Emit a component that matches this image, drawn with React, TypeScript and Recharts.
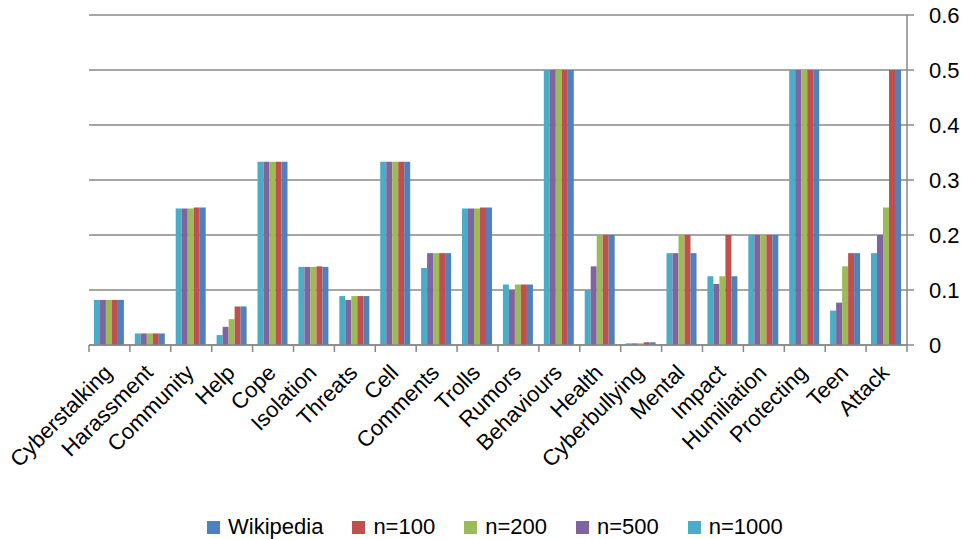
import React from 'react';
import { BarChart, Bar, XAxis, YAxis, CartesianGrid, Legend } from 'recharts';

const categories = [
  'Cyberstalking', 'Harassment', 'Community', 'Help', 'Cope', 'Isolation', 'Threats', 'Cell',
  'Comments', 'Trolls', 'Rumors', 'Behaviours', 'Health', 'Cyberbullying', 'Mental', 'Impact',
  'Humiliation', 'Protecting', 'Teen', 'Attack',
];
const wikipedia = [0.082, 0.021, 0.25, 0.07, 0.333, 0.142, 0.089, 0.333, 0.167, 0.25, 0.11, 0.5, 0.2, 0.005, 0.167, 0.125, 0.2, 0.5, 0.167, 0.5];
const n100 = [0.082, 0.021, 0.25, 0.07, 0.333, 0.143, 0.089, 0.333, 0.167, 0.25, 0.11, 0.5, 0.2, 0.005, 0.2, 0.2, 0.2, 0.5, 0.167, 0.5];
const n200 = [0.082, 0.021, 0.248, 0.047, 0.333, 0.142, 0.089, 0.333, 0.167, 0.248, 0.11, 0.5, 0.2, 0.003, 0.2, 0.125, 0.2, 0.5, 0.143, 0.25];
const n500 = [0.082, 0.021, 0.248, 0.033, 0.333, 0.142, 0.082, 0.333, 0.167, 0.248, 0.1, 0.5, 0.143, 0.003, 0.167, 0.111, 0.2, 0.5, 0.077, 0.2];
const n1000 = [0.082, 0.021, 0.248, 0.018, 0.333, 0.142, 0.089, 0.333, 0.14, 0.248, 0.11, 0.5, 0.1, 0.003, 0.167, 0.125, 0.2, 0.5, 0.0625, 0.167];
const yTicks = [0, 0.1, 0.2, 0.3, 0.4, 0.5, 0.6];

const seriesLegend = [
  { key: 'wikipedia', name: 'Wikipedia', color: '#4F81BD' },
  { key: 'n100', name: 'n=100', color: '#C0504D' },
  { key: 'n200', name: 'n=200', color: '#9BBB59' },
  { key: 'n500', name: 'n=500', color: '#8064A2' },
  { key: 'n1000', name: 'n=1000', color: '#4BACC6' },
];
// bars are drawn in reverse order within each group
const seriesDraw = [...seriesLegend].reverse();

const data = categories.map((category, i) => ({
  category,
  wikipedia: wikipedia[i],
  n100: n100[i],
  n200: n200[i],
  n500: n500[i],
  n1000: n1000[i],
}));

const W = 962;
const H = 539;
const M_LEFT = 89;
const Y_W = 55;
const X_H = 194;
const M_TOP = 15;
const BAND = (W - M_LEFT - Y_W) / categories.length;
const FONT = '"Liberation Sans", Arial, sans-serif';
const FS = 22;
const AXIS = '#888888';

const CategoryTick = (props: any) => {
  const { x, y, payload, index } = props;
  const half = BAND / 2;
  return (
    <g>
      <line x1={x - half} x2={x - half} y1={y} y2={y + 7} stroke={AXIS} strokeWidth={1.5} />
      {index === categories.length - 1 && (
        <line x1={x + half} x2={x + half} y1={y} y2={y + 7} stroke={AXIS} strokeWidth={1.5} />
      )}
      <g transform={`translate(${x + 4},${y + 29}) rotate(-45)`}>
        <text x={0} y={0} textAnchor="end" fill="#000" fontSize={FS} fontFamily={FONT}>
          {payload.value}
        </text>
      </g>
    </g>
  );
};

const renderLegend = () => (
  <div
    style={{
      display: 'flex',
      justifyContent: 'flex-start',
      alignItems: 'center',
      fontFamily: FONT,
      fontSize: FS,
      lineHeight: '26px',
      color: '#000',
      whiteSpace: 'nowrap',
    }}
  >
    {seriesLegend.map((s, i) => (
      <div key={s.key} style={{ display: 'flex', alignItems: 'center', marginLeft: i === 0 ? 0 : 29 }}>
        <span style={{ display: 'inline-block', width: 13, height: 13, background: s.color, marginRight: 8 }} />
        <span>{s.name}</span>
      </div>
    ))}
  </div>
);

export default function App() {
  return (
    <div style={{ position: 'absolute', left: 0, top: 0, width: W, height: H, background: '#fff' }}>
      <BarChart
        width={W}
        height={H}
        data={data}
        margin={{ top: M_TOP, right: 0, left: M_LEFT, bottom: 0 }}
        barCategoryGap="12%"
        barGap={0}
      >
        <CartesianGrid horizontal vertical={false} stroke={AXIS} strokeWidth={1.5} />
        <XAxis
          dataKey="category"
          interval={0}
          height={X_H}
          tickSize={0}
          tickMargin={0}
          axisLine={{ stroke: AXIS, strokeWidth: 1.5 }}
          tickLine={false}
          tick={<CategoryTick />}
        />
        <YAxis
          orientation="right"
          width={Y_W}
          domain={[0, 0.6]}
          ticks={yTicks}
          interval={0}
          axisLine={{ stroke: AXIS, strokeWidth: 1.5 }}
          tickLine={{ stroke: AXIS, strokeWidth: 1.5 }}
          tickSize={7}
          tickMargin={15}
          tick={{ fill: '#000', fontSize: FS, fontFamily: FONT }}
        />
        {seriesDraw.map((s) => (
          <Bar key={s.key} dataKey={s.key} name={s.name} fill={s.color} isAnimationActive={false} />
        ))}
        <Legend
          layout="horizontal"
          verticalAlign="middle"
          align="center"
          wrapperStyle={{ left: 207, top: 514, width: 700 }}
          content={renderLegend}
        />
      </BarChart>
    </div>
  );
}
